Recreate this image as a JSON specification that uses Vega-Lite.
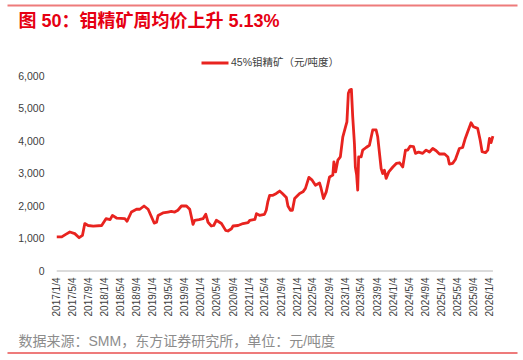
{
  "$schema": "https://vega.github.io/schema/vega-lite/v6.json",
  "autosize": {"type": "none"},
  "padding": {"left": 7, "top": 76, "right": 6, "bottom": 89},
  "width": 510,
  "height": 195,
  "config": {
    "font": "Liberation Sans, Noto Sans CJK SC, sans-serif",
    "view": {"stroke": null}
  },
  "resolve": {"axis": {"x": "independent", "y": "independent"}},
  "data": {
    "values": [
      {"date": "2017-01-04", "price": 1050},
      {"date": "2017-02-11", "price": 1050},
      {"date": "2017-03-10", "price": 1120},
      {"date": "2017-04-13", "price": 1200},
      {"date": "2017-05-21", "price": 1150},
      {"date": "2017-06-23", "price": 1025},
      {"date": "2017-07-18", "price": 1095},
      {"date": "2017-08-05", "price": 1460},
      {"date": "2017-08-30", "price": 1400},
      {"date": "2017-10-08", "price": 1380},
      {"date": "2017-12-11", "price": 1400},
      {"date": "2018-01-13", "price": 1610},
      {"date": "2018-02-13", "price": 1580},
      {"date": "2018-03-03", "price": 1710},
      {"date": "2018-04-03", "price": 1630},
      {"date": "2018-06-05", "price": 1610},
      {"date": "2018-06-22", "price": 1530},
      {"date": "2018-07-25", "price": 1815},
      {"date": "2018-09-02", "price": 1900},
      {"date": "2018-09-27", "price": 1900},
      {"date": "2018-10-29", "price": 2000},
      {"date": "2018-11-29", "price": 1900},
      {"date": "2018-12-25", "price": 1660},
      {"date": "2019-01-14", "price": 1475},
      {"date": "2019-02-01", "price": 1500},
      {"date": "2019-02-13", "price": 1710},
      {"date": "2019-03-21", "price": 1785},
      {"date": "2019-04-29", "price": 1815},
      {"date": "2019-05-24", "price": 1835},
      {"date": "2019-06-19", "price": 1815},
      {"date": "2019-07-13", "price": 1870},
      {"date": "2019-08-09", "price": 2000},
      {"date": "2019-09-16", "price": 2000},
      {"date": "2019-10-11", "price": 1900},
      {"date": "2019-10-24", "price": 1660},
      {"date": "2019-11-05", "price": 1435},
      {"date": "2019-11-18", "price": 1560},
      {"date": "2019-12-20", "price": 1580},
      {"date": "2020-01-20", "price": 1610},
      {"date": "2020-02-10", "price": 1745},
      {"date": "2020-02-27", "price": 1500},
      {"date": "2020-03-23", "price": 1385},
      {"date": "2020-04-10", "price": 1400},
      {"date": "2020-04-30", "price": 1560},
      {"date": "2020-06-08", "price": 1460},
      {"date": "2020-07-10", "price": 1250},
      {"date": "2020-07-27", "price": 1230},
      {"date": "2020-08-23", "price": 1300},
      {"date": "2020-09-04", "price": 1385},
      {"date": "2020-10-12", "price": 1400},
      {"date": "2020-11-19", "price": 1460},
      {"date": "2020-12-27", "price": 1490},
      {"date": "2021-01-09", "price": 1560},
      {"date": "2021-02-17", "price": 1590},
      {"date": "2021-03-01", "price": 1765},
      {"date": "2021-03-24", "price": 1715},
      {"date": "2021-05-01", "price": 1745},
      {"date": "2021-05-14", "price": 1870},
      {"date": "2021-05-26", "price": 2125},
      {"date": "2021-06-09", "price": 2330},
      {"date": "2021-07-04", "price": 2330},
      {"date": "2021-07-30", "price": 2385},
      {"date": "2021-08-24", "price": 2460},
      {"date": "2021-09-14", "price": 2385},
      {"date": "2021-10-14", "price": 2260},
      {"date": "2021-10-26", "price": 2000},
      {"date": "2021-11-14", "price": 1870},
      {"date": "2021-11-29", "price": 1870},
      {"date": "2021-12-16", "price": 2230},
      {"date": "2022-01-23", "price": 2385},
      {"date": "2022-02-17", "price": 2435},
      {"date": "2022-03-08", "price": 2540},
      {"date": "2022-04-03", "price": 2880},
      {"date": "2022-04-28", "price": 2795},
      {"date": "2022-05-23", "price": 2640},
      {"date": "2022-06-23", "price": 2710},
      {"date": "2022-07-05", "price": 2540},
      {"date": "2022-07-23", "price": 2230},
      {"date": "2022-08-13", "price": 2435},
      {"date": "2022-09-07", "price": 2895},
      {"date": "2022-10-02", "price": 2950},
      {"date": "2022-10-10", "price": 3360},
      {"date": "2022-10-23", "price": 3050},
      {"date": "2022-11-09", "price": 3410},
      {"date": "2022-11-28", "price": 3510},
      {"date": "2022-12-17", "price": 4130},
      {"date": "2023-01-07", "price": 4440},
      {"date": "2023-01-17", "price": 4590},
      {"date": "2023-01-28", "price": 5470},
      {"date": "2023-02-07", "price": 5570},
      {"date": "2023-02-20", "price": 5590},
      {"date": "2023-03-02", "price": 4750},
      {"date": "2023-03-15", "price": 3930},
      {"date": "2023-03-22", "price": 3200},
      {"date": "2023-04-01", "price": 2950},
      {"date": "2023-04-09", "price": 2490},
      {"date": "2023-04-16", "price": 3510},
      {"date": "2023-05-05", "price": 3510},
      {"date": "2023-05-17", "price": 3720},
      {"date": "2023-06-12", "price": 3800},
      {"date": "2023-07-07", "price": 3870},
      {"date": "2023-08-01", "price": 4340},
      {"date": "2023-08-27", "price": 4340},
      {"date": "2023-09-08", "price": 4130},
      {"date": "2023-10-04", "price": 3150},
      {"date": "2023-10-16", "price": 3000},
      {"date": "2023-10-29", "price": 3100},
      {"date": "2023-11-11", "price": 2850},
      {"date": "2023-12-01", "price": 3050},
      {"date": "2024-01-01", "price": 3200},
      {"date": "2024-01-27", "price": 3310},
      {"date": "2024-02-21", "price": 3330},
      {"date": "2024-03-16", "price": 3200},
      {"date": "2024-04-06", "price": 3720},
      {"date": "2024-04-23", "price": 3720},
      {"date": "2024-05-11", "price": 3840},
      {"date": "2024-06-06", "price": 3830},
      {"date": "2024-06-21", "price": 3620},
      {"date": "2024-07-15", "price": 3660},
      {"date": "2024-08-15", "price": 3620},
      {"date": "2024-09-10", "price": 3720},
      {"date": "2024-10-05", "price": 3660},
      {"date": "2024-10-30", "price": 3770},
      {"date": "2024-11-25", "price": 3700},
      {"date": "2024-12-20", "price": 3600},
      {"date": "2025-01-28", "price": 3600},
      {"date": "2025-02-22", "price": 3510},
      {"date": "2025-03-05", "price": 3290},
      {"date": "2025-03-30", "price": 3310},
      {"date": "2025-04-20", "price": 3430},
      {"date": "2025-05-20", "price": 3770},
      {"date": "2025-06-14", "price": 3800},
      {"date": "2025-07-04", "price": 4080},
      {"date": "2025-07-22", "price": 4280},
      {"date": "2025-08-17", "price": 4560},
      {"date": "2025-09-04", "price": 4440},
      {"date": "2025-10-06", "price": 4390},
      {"date": "2025-10-25", "price": 4030},
      {"date": "2025-11-09", "price": 3670},
      {"date": "2025-12-04", "price": 3640},
      {"date": "2025-12-22", "price": 3720},
      {"date": "2026-01-04", "price": 4080},
      {"date": "2026-01-16", "price": 3950},
      {"date": "2026-01-30", "price": 4150}
    ]
  },
  "layer": [
    {
      "mark": {"type": "rule", "color": "#d0d0d0", "strokeWidth": 1.2},
      "encoding": {
        "x": {
          "aggregate": "min",
          "field": "date",
          "type": "temporal",
          "axis": {
            "orient": "top",
            "offset": 71,
            "labels": false,
            "ticks": false,
            "grid": false,
            "domain": true,
            "domainColor": "#ee7b7b",
            "domainWidth": 2,
            "domainOpacity": 1,
            "title": "图 50：钼精矿周均价上升 5.13%",
            "titleX": 11,
            "titleY": 21,
            "titleAlign": "left",
            "titleAnchor": "start",
            "titleBaseline": "alphabetic",
            "titleFont": "Liberation Sans, Noto Sans CJK SC, sans-serif",
            "titleFontSize": 18,
            "titleFontWeight": "bold",
            "titleColor": "#e60012"
          }
        },
        "x2": {"aggregate": "max", "field": "date"},
        "y": {"datum": 0, "type": "quantitative", "axis": null}
      }
    },
    {
      "mark": {"type": "rule", "color": "#d0d0d0", "strokeWidth": 1.2},
      "encoding": {
        "x": {
          "aggregate": "min",
          "field": "date",
          "type": "temporal",
          "axis": {
            "orient": "bottom",
            "offset": 81.5,
            "labels": false,
            "ticks": false,
            "grid": false,
            "domain": true,
            "domainColor": "#ee7b7b",
            "domainWidth": 2,
            "domainOpacity": 1,
            "title": "数据来源：SMM，东方证券研究所，单位：元/吨度",
            "titleX": 11,
            "titleY": -7.5,
            "titleAlign": "left",
            "titleAnchor": "start",
            "titleBaseline": "alphabetic",
            "titleFont": "Liberation Sans, Noto Sans CJK SC, sans-serif",
            "titleFontSize": 14,
            "titleFontWeight": "normal",
            "titleColor": "#8c8c8c"
          }
        },
        "x2": {"aggregate": "max", "field": "date"},
        "y": {"datum": 0, "type": "quantitative", "axis": null}
      }
    },
    {
      "mark": {"type": "line", "strokeWidth": 2.8, "strokeJoin": "round"},
      "encoding": {
        "x": {
          "field": "date",
          "type": "temporal",
          "scale": {
            "type": "utc",
            "domain": [
              {"year": 2015, "month": 12, "date": 23, "utc": true},
              {"year": 2026, "month": 8, "date": 1, "utc": true}
            ]
          },
          "axis": {
            "orient": "bottom",
            "title": null,
            "values": [
              {"year": 2017, "month": 1, "date": 4, "utc": true},
              {"year": 2017, "month": 5, "date": 4, "utc": true},
              {"year": 2017, "month": 9, "date": 4, "utc": true},
              {"year": 2018, "month": 1, "date": 4, "utc": true},
              {"year": 2018, "month": 5, "date": 4, "utc": true},
              {"year": 2018, "month": 9, "date": 4, "utc": true},
              {"year": 2019, "month": 1, "date": 4, "utc": true},
              {"year": 2019, "month": 5, "date": 4, "utc": true},
              {"year": 2019, "month": 9, "date": 4, "utc": true},
              {"year": 2020, "month": 1, "date": 4, "utc": true},
              {"year": 2020, "month": 5, "date": 4, "utc": true},
              {"year": 2020, "month": 9, "date": 4, "utc": true},
              {"year": 2021, "month": 1, "date": 4, "utc": true},
              {"year": 2021, "month": 5, "date": 4, "utc": true},
              {"year": 2021, "month": 9, "date": 4, "utc": true},
              {"year": 2022, "month": 1, "date": 4, "utc": true},
              {"year": 2022, "month": 5, "date": 4, "utc": true},
              {"year": 2022, "month": 9, "date": 4, "utc": true},
              {"year": 2023, "month": 1, "date": 4, "utc": true},
              {"year": 2023, "month": 5, "date": 4, "utc": true},
              {"year": 2023, "month": 9, "date": 4, "utc": true},
              {"year": 2024, "month": 1, "date": 4, "utc": true},
              {"year": 2024, "month": 5, "date": 4, "utc": true},
              {"year": 2024, "month": 9, "date": 4, "utc": true},
              {"year": 2025, "month": 1, "date": 4, "utc": true},
              {"year": 2025, "month": 5, "date": 4, "utc": true},
              {"year": 2025, "month": 9, "date": 4, "utc": true},
              {"year": 2026, "month": 1, "date": 4, "utc": true}
            ],
            "format": "%Y/%-m/%-d",
            "labelAngle": 270,
            "labelFontSize": 10,
            "labelColor": "#404040",
            "labelPadding": 6,
            "labelOverlap": false,
            "labelFlush": false,
            "labelBound": false,
            "ticks": false,
            "grid": false,
            "domain": false
          }
        },
        "y": {
          "field": "price",
          "type": "quantitative",
          "scale": {"domain": [0, 6000], "nice": false, "zero": true},
          "axis": {
            "title": null,
            "offset": -49,
            "values": [0, 1000, 2000, 3000, 4000, 5000, 6000],
            "format": ",.0f",
            "labelOverlap": false,
            "domain": false,
            "ticks": false,
            "grid": false,
            "labelFontSize": 10.5,
            "labelColor": "#404040",
            "labelPadding": 12
          }
        },
        "color": {
          "datum": "45%钼精矿（元/吨度）",
          "type": "nominal",
          "scale": {"range": ["#e8231f"]},
          "legend": {
            "title": null,
            "orient": "none",
            "legendX": 193,
            "legendY": -28,
            "symbolType": "stroke",
            "symbolSize": 729,
            "symbolStrokeWidth": 3,
            "labelFontSize": 10.5,
            "labelColor": "#404040",
            "labelOffset": 1,
            "padding": 0
          }
        }
      }
    }
  ]
}
